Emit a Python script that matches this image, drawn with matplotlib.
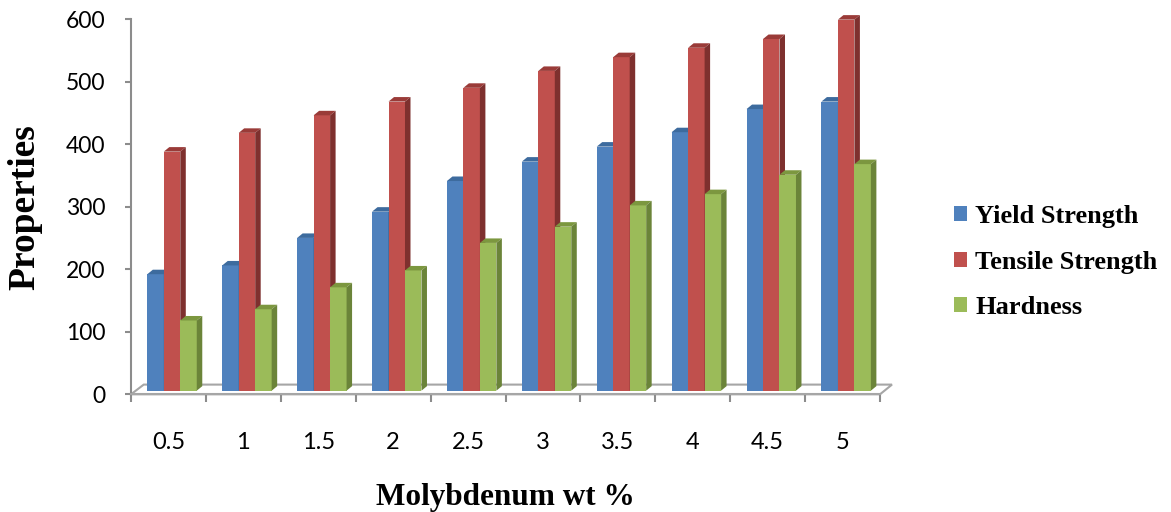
import matplotlib.pyplot as plt
from matplotlib.patches import Polygon, Patch

# Mechanical properties against molybdenum content
categories = ['0.5', '1', '1.5', '2', '2.5', '3', '3.5', '4', '4.5', '5']
yield_strength = [192, 206, 250, 292, 341, 372, 396, 419, 456, 468]
tensile_strength = [388, 418, 446, 468, 490, 517, 539, 554, 568, 599]
hardness = [118, 136, 171, 198, 242, 268, 302, 320, 351, 368]

# (label, values, front, top, side)
series = [
    ('Yield Strength', yield_strength, '#4F81BD', '#3D6B9E', '#385D8A'),
    ('Tensile Strength', tensile_strength, '#C0504D', '#9A3B38', '#7E302E'),
    ('Hardness', hardness, '#9BBB59', '#7C973F', '#6B8439'),
]

W, H = 1171, 512
fig = plt.figure(figsize=(W / 100, H / 100), dpi=100)
ax = fig.add_axes([131 / W, (H - 394.3) / H, (892 - 131) / W, (394.3 - 19) / H])
ax.set_xlim(-0.5, 9.66)
ax.set_ylim(0, 600)

grey = '#8C8C8C'

# floor of the 3-D box
floor = Polygon([(-0.5, 0), (9.5, 0), (9.66, 15.5), (-0.33, 15.5)],
                closed=True, facecolor='white', edgecolor='#A6A6A6',
                lw=1.5, zorder=1, clip_on=False)
ax.add_patch(floor)

bar_w = 0.22
start = -0.282
base = 5.8        # front faces stand slightly inside the floor
dx, dy = 0.0735, 7.2  # depth of the columns

for i in range(len(categories)):
    for j, (label, vals, front, top, side) in enumerate(series):
        x0 = i + start + j * bar_w
        v = vals[i]
        ax.bar(x0, v - base, bottom=base, width=bar_w, align='edge',
               color=front, lw=0, zorder=2, clip_on=False)
        ax.add_patch(Polygon([(x0, v), (x0 + bar_w, v),
                              (x0 + bar_w + dx, v + dy), (x0 + dx, v + dy)],
                             closed=True, facecolor=top, lw=0, zorder=2,
                             clip_on=False))
        ax.add_patch(Polygon([(x0 + bar_w, base), (x0 + bar_w + dx, base + dy),
                              (x0 + bar_w + dx, v + dy), (x0 + bar_w, v)],
                             closed=True, facecolor=side, lw=0, zorder=2,
                             clip_on=False))

for s in ['top', 'right']:
    ax.spines[s].set_visible(False)
ax.spines['left'].set_color(grey)
ax.spines['left'].set_linewidth(1.5)
ax.spines['bottom'].set_color('#A6A6A6')
ax.spines['bottom'].set_linewidth(1.5)
ax.spines['bottom'].set_bounds(-0.5, 9.5)
ax.spines['bottom'].set_zorder(3)

ax.set_yticks(range(0, 601, 100))
ax.tick_params(axis='y', direction='out', length=4.3, width=1.5, color=grey,
               pad=14, labelsize=16.5)
for t in ax.get_yticklabels():
    t.set_fontfamily('Lato')

ax.set_xticks([k - 0.5 for k in range(len(categories) + 1)])
ax.set_xticklabels([])
ax.set_xticks(range(len(categories)), minor=True)
ax.set_xticklabels(categories, minor=True, fontfamily='Lato', fontsize=17)
ax.tick_params(axis='x', which='major', direction='out', length=6, width=1.5,
               color=grey)
ax.tick_params(axis='x', which='minor', length=0, pad=27)

serif = 'Liberation Serif'
fig.text(24.5 / W, 1 - 207.5 / H, 'Properties', rotation=90, ha='center',
         va='center', fontsize=27, fontweight='bold', fontfamily=serif)
fig.text(505 / W, 1 - 498 / H, 'Molybdenum wt %', ha='center', va='center',
         fontsize=22.5, fontweight='bold', fontfamily=serif)

handles = [Patch(facecolor=s[2], edgecolor='none', label=s[0]) for s in series]
fig.legend(handles=handles, loc='center left', bbox_to_anchor=(954 / W, 1 - 262 / H),
           frameon=False, borderpad=0, borderaxespad=0, handlelength=0.5,
           handleheight=0.5, handletextpad=0.3, labelspacing=0.85,
           prop={'family': serif, 'weight': 'bold', 'size': 19})

fig.savefig('out.png', dpi=100)
